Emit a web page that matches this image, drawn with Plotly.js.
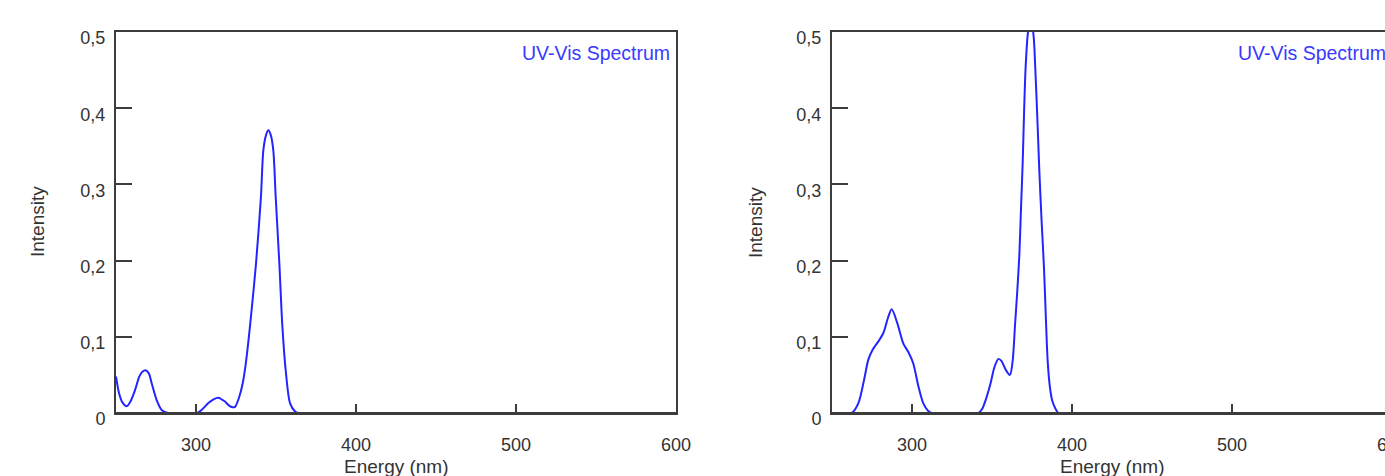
<!DOCTYPE html>
<html>
<head>
<meta charset="utf-8">
<script src="https://cdn.plot.ly/plotly-3.0.1.min.js"></script>
<style>
html, body { margin: 0; padding: 0; overflow: hidden; background: #fff; }
#chart { width: 1420px; height: 476px; }
</style>
</head>
<body>
<div id="chart"></div>
<script>
// Left spectrum
const leftWavelength = [250, 251.9, 254, 256.7, 259, 261.9, 264.6, 266.5, 268.5, 270.5, 272.3, 275.4, 278.5, 282.7, 290, 300.5,
  303.5, 307.7, 311, 313.9, 316, 318.1, 320.5, 322.9, 324.4, 327, 329.2, 331, 333.75, 337.5, 340.6, 342.1, 343.8, 345.2,
  346.7, 348.3, 349.8, 352.1, 354, 356.25, 358.75, 361.9, 364, 380, 600];
const leftIntensity = [0.048, 0.026, 0.014, 0.009, 0.015, 0.030, 0.048, 0.054, 0.056, 0.052, 0.039, 0.017, 0.004, 0, 0, 0,
  0.004, 0.013, 0.018, 0.020, 0.018, 0.015, 0.010, 0.0075, 0.008, 0.021, 0.039, 0.063, 0.114, 0.196, 0.284, 0.345, 0.365, 0.371,
  0.365, 0.345, 0.284, 0.196, 0.113, 0.052, 0.013, 0.002, 0, 0, 0];

// Right spectrum
const rightWavelength = [250, 262.3, 266.5, 270, 272.7, 275.4, 279, 282.1, 285, 287.3, 290.8, 294.6, 297.7, 300.8, 304, 307, 310, 312.3,
  325, 341.5, 344, 346.5, 349, 351.5, 354, 356, 358.5, 361.2, 362.9, 364.4, 365.8, 367.1, 368.1, 369.2, 370, 371, 372.5, 374.3,
  376, 377.3, 378.5, 379.6, 381, 382.5, 383.75, 384.8, 386.25, 387.8, 389.4, 391.5, 400, 600];
const rightIntensity = [0, 0, 0.013, 0.043, 0.070, 0.083, 0.094, 0.105, 0.125, 0.136, 0.118, 0.091, 0.080, 0.065, 0.035, 0.013, 0.003, 0,
  0, 0, 0.006, 0.020, 0.038, 0.060, 0.071, 0.068, 0.057, 0.050, 0.068, 0.116, 0.160, 0.208, 0.267, 0.330, 0.391, 0.453, 0.500, 0.518,
  0.495, 0.44, 0.378, 0.317, 0.252, 0.190, 0.120, 0.068, 0.033, 0.015, 0.007, 0, 0, 0];

const xTickValues = [300, 400, 500, 600];
const yTickValues = [0, 0.1, 0.2, 0.3, 0.4, 0.5];
const seriesName = 'UV-Vis Spectrum';
const xTitle = 'Energy (nm)';
const yTitle = 'Intensity';

const W = 1420, H = 476;
const lineColor = '#2424ff';
const axisColor = '#3c3c3c';
const family = 'Liberation Sans, Arial, sans-serif';
const font = {family: family, size: 18, color: '#333'};
const titleFont = {family: family, size: 19, color: '#333'};

function px(v) { return v / W; }
function py(v) { return (H - v) / H; }

const traces = [
  {x: leftWavelength, y: leftIntensity, xaxis: 'x', yaxis: 'y', type: 'scatter', mode: 'lines',
   name: seriesName, line: {color: lineColor, width: 2, shape: 'spline', smoothing: 0.8}, showlegend: false},
  {x: rightWavelength, y: rightIntensity, xaxis: 'x2', yaxis: 'y2', type: 'scatter', mode: 'lines',
   name: seriesName, line: {color: lineColor, width: 2, shape: 'spline', smoothing: 0.8}, showlegend: false}
];

function xAxis(domain, anchor) {
  return {domain: domain, anchor: anchor, range: [250, 600], tickvals: xTickValues, ticktext: xTickValues.map(String),
    ticks: 'inside', ticklen: 9, tickwidth: 2, tickcolor: axisColor, showline: true, linecolor: axisColor, linewidth: 2,
    mirror: true, showgrid: false, zeroline: false, tickfont: font, ticklabelstandoff: 14, automargin: false, fixedrange: true};
}
function yAxis(anchor) {
  return {domain: [py(413), py(32)], anchor: anchor, range: [0, 0.5], tickvals: yTickValues,
    ticks: 'inside', ticklen: 16, tickwidth: 2, tickcolor: axisColor, showline: true, linecolor: axisColor, linewidth: 2,
    mirror: true, showgrid: false, zeroline: false, tickfont: font, ticklabelstandoff: 5, ticklabelshift: 6,
    automargin: false, fixedrange: true};
}

const annotations = [];
const shapes = [];
[['x', 'y', 37, 396], ['x2', 'y2', 755, 1112]].forEach(function (a) {
  annotations.push({xref: a[0] + ' domain', yref: a[1] + ' domain', x: 1, y: 1 - 21 / 381, xanchor: 'right', yanchor: 'middle',
    xshift: -4, text: seriesName, showarrow: false, font: {family: family, size: 19.5, color: '#3a3aff'}});
  annotations.push({xref: 'paper', yref: 'paper', x: px(a[2]), y: py(222), xanchor: 'center', yanchor: 'middle',
    text: yTitle, textangle: -90, showarrow: false, font: titleFont});
  annotations.push({xref: 'paper', yref: 'paper', x: px(a[3]), y: py(466), xanchor: 'center', yanchor: 'middle',
    text: xTitle, showarrow: false, font: titleFont});
  // bottom axis line redrawn above the trace so that zero-valued stretches sit under it
  shapes.push({type: 'line', layer: 'above', xref: a[0] + ' domain', yref: a[1] + ' domain', x0: 0, x1: 1, y0: 0, y1: 0,
    line: {color: axisColor, width: 2}});
});

const layout = {
  width: W, height: H, margin: {l: 0, r: 0, t: 0, b: 0},
  paper_bgcolor: '#fff', plot_bgcolor: '#fff',
  separators: ',.',
  font: font,
  showlegend: false,
  xaxis: xAxis([px(116), px(676)], 'y'),
  yaxis: yAxis('x'),
  xaxis2: xAxis([px(832), px(1392)], 'y2'),
  yaxis2: yAxis('x2'),
  annotations: annotations,
  shapes: shapes
};

Plotly.newPlot('chart', traces, layout, {displayModeBar: false, staticPlot: true});
</script>
</body>
</html>
